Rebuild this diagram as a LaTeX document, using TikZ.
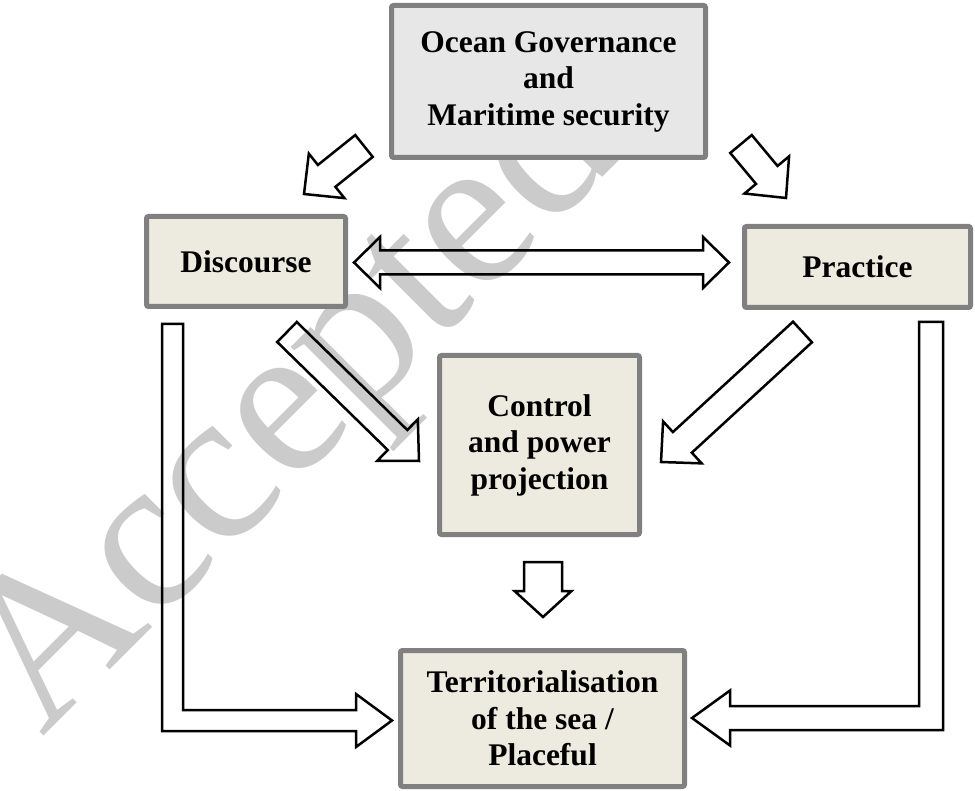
\documentclass[tikz,border=0pt]{standalone}
\usepackage{fontspec}
\setmainfont{Liberation Serif}
\usetikzlibrary{calc}
\definecolor{boxborder}{HTML}{808080}
\definecolor{topfill}{HTML}{E7E7E8}
\definecolor{beigefill}{HTML}{EDEBE0}
\definecolor{wmgray}{HTML}{CBCBCB}
\tikzset{
  box/.style={draw=boxborder, line width=5pt, rounded corners=2pt, align=center, inner sep=0pt,
    font=\bfseries\fontsize{31.5}{36.5}\selectfont},
  arrowline/.style={draw=black, line width=2.5pt, line join=miter},
  wm/.style={text=wmgray, inner sep=0pt, font=\fontsize{218}{218}\selectfont}
}
\newcommand\blockarrow[6]{% #1 name, #2 tail, #3 tip, #4 half shaft, #5 half head, #6 head length
  \coordinate (#1hb) at ($(#3)!#6!(#2)$);
  \draw[arrowline] ($(#2)!#4!90:(#3)$) -- ($(#1hb)!#4!90:(#3)$) -- ($(#1hb)!#5!90:(#3)$) -- (#3)
    -- ($(#1hb)!#5!-90:(#3)$) -- ($(#1hb)!#4!-90:(#3)$) -- ($(#2)!#4!-90:(#3)$) -- cycle;}
\begin{document}
\begin{tikzpicture}[x=1pt, y=-1pt]
\useasboundingbox (0,0) rectangle (975,791);
% watermark
\begin{scope}
\clip (0,0) rectangle (975,791);
\node[wm, rotate=45, anchor=base west] (wmk) at (42,738) {Accepted};
\end{scope}
% boxes
\node[box, fill=topfill, minimum width=314pt, minimum height=152pt] (gov) at (548.5,81.5) {Ocean Governance\\and\\Maritime security};
\node[box, fill=beigefill, minimum width=199pt, minimum height=90pt] (disc) at (246,261.5) {Discourse};
\node[box, fill=beigefill, minimum width=226pt, minimum height=81pt] (prac) at (857.5,267) {Practice};
\node[box, fill=beigefill, minimum width=200pt, minimum height=179pt] (ctrl) at (539.5,445) {Control\\and power\\projection};
\node[box, fill=beigefill, minimum width=284pt, minimum height=136pt] (terr) at (542.5,718.5) {Territorialisation\\of the sea /\\Placeful};
% arrow end points
\coordinate (a1t) at (364,146);   \coordinate (a1p) at (304,194);
\coordinate (a2t) at (741,144);   \coordinate (a2p) at (786,198);
\coordinate (a3t) at (287,332);   \coordinate (a3p) at (419,461);
\coordinate (a4t) at (802.5,332); \coordinate (a4p) at (661,462);
\coordinate (a5t) at (543,562);   \coordinate (a5p) at (543,617);
% diagonal and down arrows
\blockarrow{a1}{a1t}{a1p}{14pt}{28.5pt}{29pt}
\blockarrow{a2}{a2t}{a2p}{14pt}{29pt}{30pt}
\blockarrow{a3}{a3t}{a3p}{14pt}{29pt}{30pt}
\blockarrow{a4}{a4t}{a4p}{14pt}{28.5pt}{29pt}
\blockarrow{a5}{a5t}{a5p}{19pt}{28.5pt}{26pt}
% double arrow Discourse <-> Practice
\coordinate (dl) at (354,262.5);
\coordinate (dr) at (729,262.5);
\draw[arrowline] (dl) -- ($(dl)+(26,-25.5)$) -- ($(dl)+(26,-12)$) -- ($(dr)+(-26,-12)$) -- ($(dr)+(-26,-25.5)$)
  -- (dr) -- ($(dr)+(-26,25.5)$) -- ($(dr)+(-26,12)$) -- ($(dl)+(26,12)$) -- ($(dl)+(26,25.5)$) -- cycle;
% left L arrow (Discourse -> Territorialisation)
\coordinate (lT) at (172.5,324);
\coordinate (lC) at (172.5,720.5);
\coordinate (lP) at (392,720.5);
\draw[arrowline] ($(lT)+(-10.5,0)$) -- ($(lC)+(-10.5,10.5)$) -- ($(lP)+(-36,10.5)$) -- ($(lP)+(-36,26.5)$)
  -- (lP) -- ($(lP)+(-36,-26.5)$) -- ($(lP)+(-36,-10.5)$) -- ($(lC)+(10.5,-10.5)$) -- ($(lT)+(10.5,0)$) -- cycle;
% right L arrow (Practice -> Territorialisation)
\coordinate (rT) at (931,322);
\coordinate (rC) at (931,718);
\coordinate (rP) at (692,718);
\draw[arrowline] ($(rT)+(12,0)$) -- ($(rC)+(12,12)$) -- ($(rP)+(38,12)$) -- ($(rP)+(38,27.5)$)
  -- (rP) -- ($(rP)+(38,-27.5)$) -- ($(rP)+(38,-12)$) -- ($(rC)+(-12,-12)$) -- ($(rT)+(-12,0)$) -- cycle;
\end{tikzpicture}
\end{document}
